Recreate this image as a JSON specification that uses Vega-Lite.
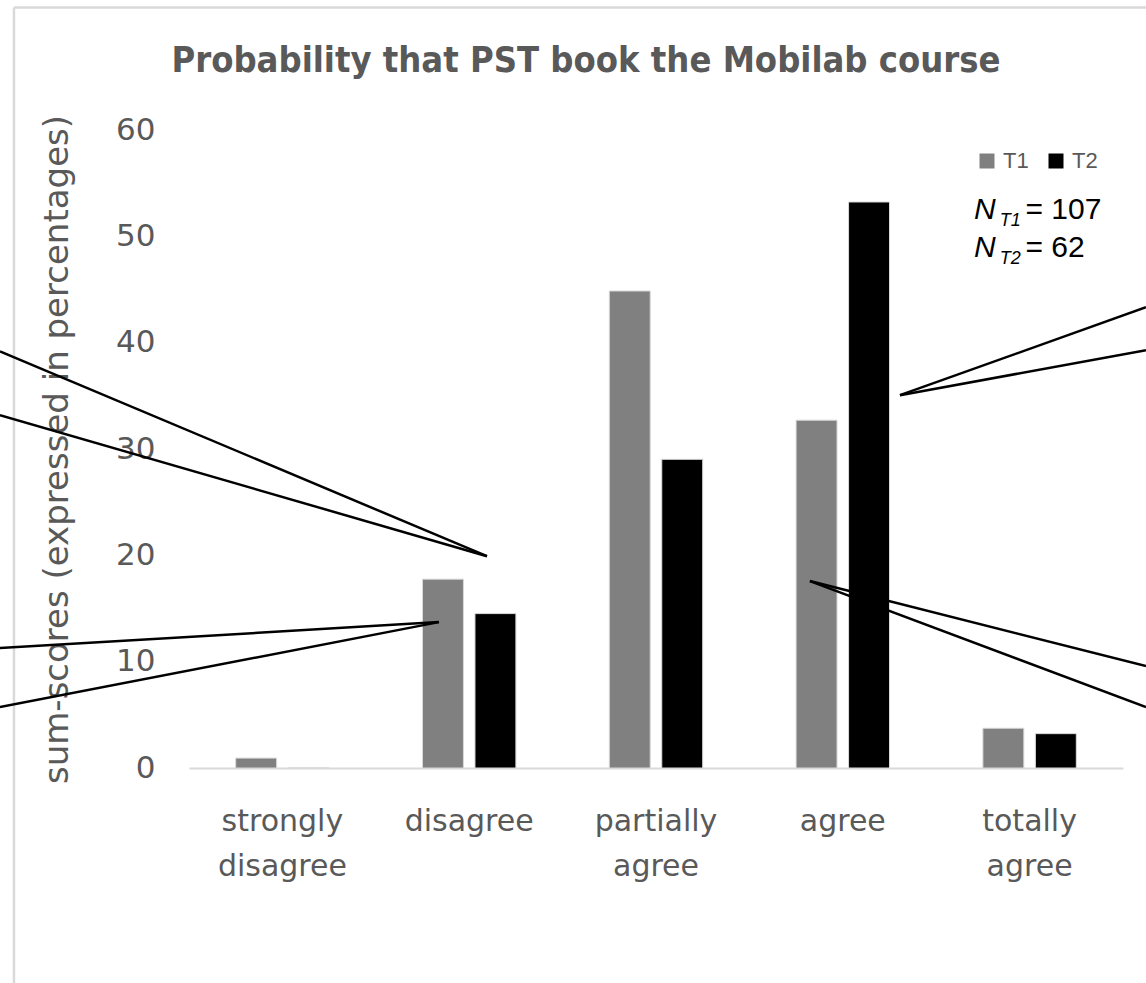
{
  "$schema": "https://vega.github.io/schema/vega-lite/v6.json",
  "width": 934,
  "height": 638,
  "autosize": {"type": "none"},
  "padding": {"left": 189, "top": 130, "right": 23, "bottom": 215},
  "background": "white",
  "title": {
    "text": "Probability that PST book the Mobilab course",
    "font": "DejaVu Sans Condensed, Roboto Condensed, Roboto, sans-serif",
    "fontWeight": "bold",
    "fontSize": 36,
    "color": "#595959",
    "anchor": "middle",
    "dx": -70,
    "offset": -74
  },
  "config": {
    "view": {"stroke": null},
    "axisX": {
      "title": null,
      "domain": true,
      "domainColor": "#d9d9d9",
      "domainWidth": 2,
      "ticks": false,
      "grid": false,
      "labelAngle": 0,
      "labelFont": "DejaVu Sans",
      "labelFontSize": 30,
      "labelColor": "#595959",
      "labelPadding": 38,
      "labelLineHeight": 45,
      "labelExpr": "split(datum.label, ' ')"
    },
    "axisY": {
      "domain": false,
      "ticks": false,
      "grid": false,
      "labelFont": "DejaVu Sans",
      "labelFontSize": 31,
      "labelColor": "#595959",
      "labelPadding": 34,
      "titleFont": "DejaVu Sans",
      "titleFontSize": 34,
      "titleFontWeight": "normal",
      "titleColor": "#595959",
      "titlePadding": 41
    }
  },
  "datasets": {
    "bars": [
      {"category": "strongly disagree", "time": "T1", "pct": 0.93},
      {"category": "strongly disagree", "time": "T2", "pct": 0},
      {"category": "disagree", "time": "T1", "pct": 17.76},
      {"category": "disagree", "time": "T2", "pct": 14.52},
      {"category": "partially agree", "time": "T1", "pct": 44.86},
      {"category": "partially agree", "time": "T2", "pct": 29.03},
      {"category": "agree", "time": "T1", "pct": 32.71},
      {"category": "agree", "time": "T2", "pct": 53.23},
      {"category": "totally agree", "time": "T1", "pct": 3.74},
      {"category": "totally agree", "time": "T2", "pct": 3.23}
    ],
    "callouts": [
      {"x1": -1.012, "y1": 39.19, "x2": 1.595, "y2": 19.92},
      {"x1": -1.012, "y1": 33.18, "x2": 1.595, "y2": 19.92},
      {"x1": -1.012, "y1": 11.28, "x2": 1.338, "y2": 13.72},
      {"x1": -1.012, "y1": 5.73, "x2": 1.338, "y2": 13.72},
      {"x1": 3.806, "y1": 35.06, "x2": 5.123, "y2": 43.33},
      {"x1": 3.806, "y1": 35.06, "x2": 5.123, "y2": 39.29},
      {"x1": 3.324, "y1": 17.58, "x2": 5.123, "y2": 9.59},
      {"x1": 3.324, "y1": 17.58, "x2": 5.123, "y2": 5.73}
    ],
    "frame": [
      {"x1": -0.937, "y1": 71.52, "x2": 5.2, "y2": 71.52},
      {"x1": -0.937, "y1": 71.52, "x2": -0.937, "y2": -21}
    ],
    "nItalic": [
      {"ax": 4.202, "ay": 51.6, "txt": "N"},
      {"ax": 4.202, "ay": 48.03, "txt": "N"}
    ],
    "nSub": [
      {"ax": 4.34, "ay": 50.94, "txt": "T1"},
      {"ax": 4.34, "ay": 47.37, "txt": "T2"}
    ],
    "nValue": [
      {"ax": 4.478, "ay": 51.6, "txt": "= 107"},
      {"ax": 4.478, "ay": 48.03, "txt": "= 62"}
    ]
  },
  "layer": [
    {
      "data": {"name": "bars"},
      "mark": {"type": "bar", "stroke": "#d9d9d9", "strokeWidth": 1},
      "encoding": {
        "x": {
          "field": "category",
          "type": "nominal",
          "sort": ["strongly disagree", "disagree", "partially agree", "agree", "totally agree"],
          "scale": {"paddingInner": 0.5, "paddingOuter": 0.25}
        },
        "xOffset": {
          "field": "time",
          "type": "nominal",
          "scale": {"paddingInner": 0.22, "paddingOuter": 0}
        },
        "y": {
          "field": "pct",
          "type": "quantitative",
          "title": "sum-scores (expressed in percentages)",
          "scale": {"domain": [0, 60], "nice": false},
          "axis": {"values": [0, 10, 20, 30, 40, 50, 60]}
        },
        "color": {
          "field": "time",
          "type": "nominal",
          "scale": {"domain": ["T1", "T2"], "range": ["#808080", "#000000"]},
          "legend": {
            "title": null,
            "orient": "none",
            "legendX": 787,
            "legendY": 20,
            "direction": "horizontal",
            "symbolType": "square",
            "symbolSize": 225,
            "symbolStrokeWidth": 0,
            "labelFont": "Liberation Sans",
            "labelFontSize": 22,
            "labelColor": "#595959",
            "labelOffset": 5,
            "columnPadding": 16,
            "padding": 0
          }
        }
      }
    },
    {
      "data": {"name": "frame"},
      "mark": {"type": "rule", "color": "#d9d9d9", "strokeWidth": 2.5, "clip": false},
      "encoding": {
        "x": {"field": "x1", "type": "quantitative", "scale": {"domain": [0, 5], "nice": false, "zero": false}, "axis": null},
        "x2": {"field": "x2"},
        "y": {"field": "y1", "type": "quantitative", "title": "sum-scores (expressed in percentages)"},
        "y2": {"field": "y2"}
      }
    },
    {
      "data": {"name": "callouts"},
      "mark": {"type": "rule", "color": "#000000", "strokeWidth": 2.5, "clip": false},
      "encoding": {
        "x": {"field": "x1", "type": "quantitative", "scale": {"domain": [0, 5], "nice": false, "zero": false}, "axis": null},
        "x2": {"field": "x2"},
        "y": {"field": "y1", "type": "quantitative", "title": "sum-scores (expressed in percentages)"},
        "y2": {"field": "y2"}
      }
    },
    {
      "data": {"name": "nItalic"},
      "mark": {"type": "text", "font": "Liberation Sans", "fontSize": 30, "fontStyle": "italic", "color": "#000000", "align": "left", "baseline": "alphabetic", "clip": false},
      "encoding": {
        "x": {"field": "ax", "type": "quantitative", "scale": {"domain": [0, 5], "nice": false, "zero": false}, "axis": null},
        "y": {"field": "ay", "type": "quantitative", "title": "sum-scores (expressed in percentages)"},
        "text": {"field": "txt"}
      }
    },
    {
      "data": {"name": "nSub"},
      "mark": {"type": "text", "font": "Liberation Sans", "fontSize": 18, "fontStyle": "italic", "color": "#000000", "align": "left", "baseline": "alphabetic", "clip": false},
      "encoding": {
        "x": {"field": "ax", "type": "quantitative", "scale": {"domain": [0, 5], "nice": false, "zero": false}, "axis": null},
        "y": {"field": "ay", "type": "quantitative", "title": "sum-scores (expressed in percentages)"},
        "text": {"field": "txt"}
      }
    },
    {
      "data": {"name": "nValue"},
      "mark": {"type": "text", "font": "Liberation Sans", "fontSize": 30, "color": "#000000", "align": "left", "baseline": "alphabetic", "clip": false},
      "encoding": {
        "x": {"field": "ax", "type": "quantitative", "scale": {"domain": [0, 5], "nice": false, "zero": false}, "axis": null},
        "y": {"field": "ay", "type": "quantitative", "title": "sum-scores (expressed in percentages)"},
        "text": {"field": "txt"}
      }
    }
  ],
  "resolve": {"scale": {"x": "independent"}}
}
